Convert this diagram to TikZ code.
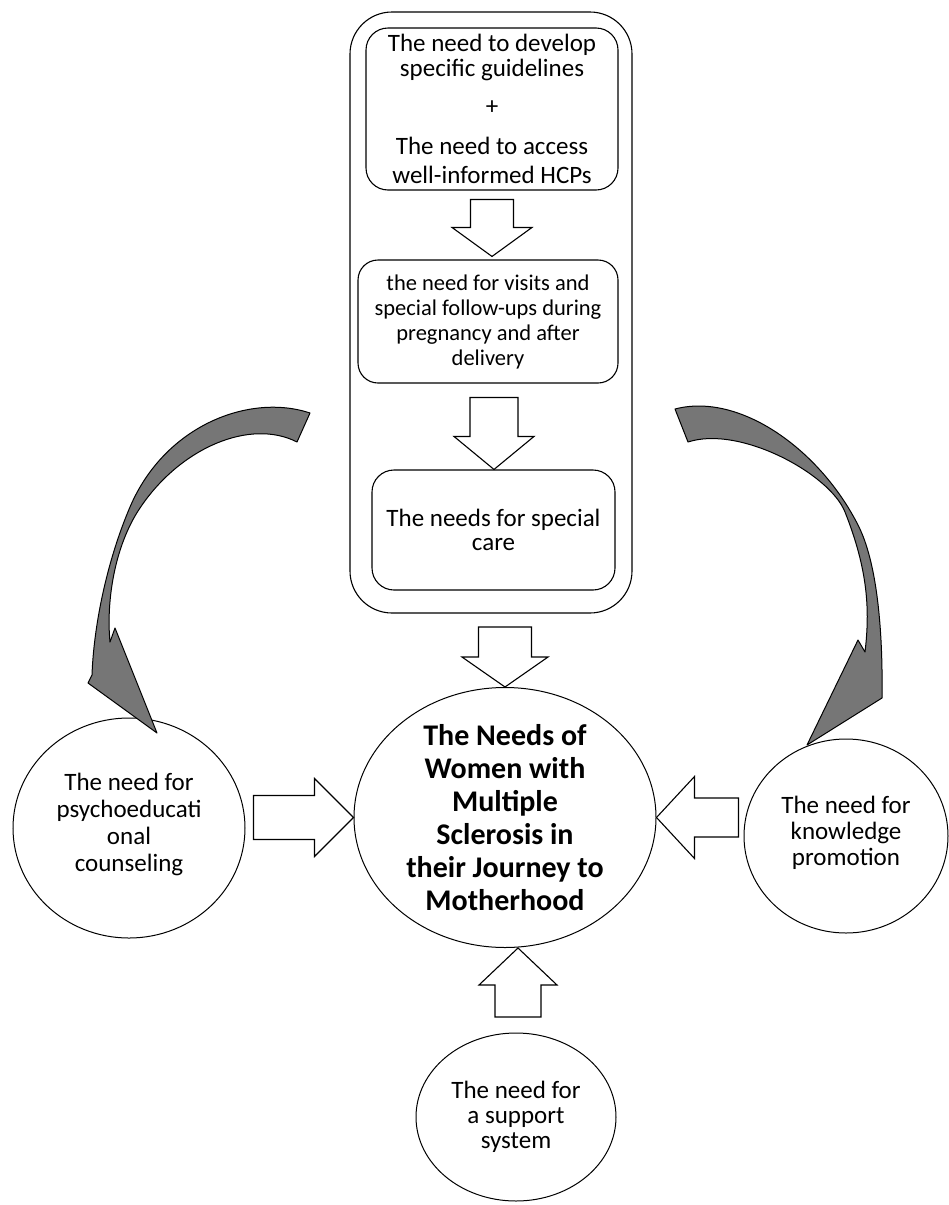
\documentclass[tikz,border=0pt]{standalone}
\usepackage{fontspec}
\setmainfont{Carlito}
\usetikzlibrary{shapes.geometric,calc}
\definecolor{arrowgray}{RGB}{118,118,118}
\newcommand\szA{\fontsize{25}{25}\selectfont}
\newcommand\szB{\fontsize{22.5}{25}\selectfont}
\newcommand\szC{\fontsize{25}{24}\selectfont}
\newcommand\szD{\fontsize{30}{33}\selectfont\bfseries}
\newcommand\szE{\fontsize{25}{27}\selectfont}
\newcommand\szF{\fontsize{25}{26}\selectfont}
\tikzset{
  box/.style={draw, line width=1.1pt, rounded corners=22pt, align=center, inner sep=0pt},
  oval/.style={draw, ellipse, line width=1pt, inner sep=0pt},
  lbl/.style={align=center, inner sep=0pt},
  blockarrow/.style={draw, line width=1.1pt, fill=white, line join=miter},
  curvedarrow/.style={draw=black, line width=1pt, fill=arrowgray, line join=round},
  pics/barrow/.style args={#1/#2/#3/#4}{code={
    \path[blockarrow] (0,0) -- (-#2,#4/2) -- (-#2,#3/2) -- (-#1,#3/2) -- (-#1,-#3/2) -- (-#2,-#3/2) -- (-#2,-#4/2) -- cycle;}}
}
\begin{document}
\begin{tikzpicture}[x=1pt,y=-1pt]
\useasboundingbox (0,0) rectangle (949,1205);

% frame and boxes
\node[box, rounded corners=42pt, minimum width=282pt, minimum height=601pt] (frame) at (491,312.5) {};
\node[box, minimum width=252pt, minimum height=162pt, font=\szA] (box1) at (492,109)
  {The need to develop\\specific guidelines\\[13pt]+\\[15pt]The need to access\\[4pt]well-informed HCPs};
\node[box, rounded corners=20pt, minimum width=260pt, minimum height=123pt, font=\szB] (box2) at (488,321.5)
  {the need for visits and\\special follow-ups during\\pregnancy and after\\delivery};
\node[box, minimum width=243pt, minimum height=120pt, font=\szC] (box3) at (493.5,530)
  {The needs for special\\care};

% ellipses
\node[oval, minimum width=302pt, minimum height=260pt] (center) at (505,817.5) {};
\node[lbl, font=\szD] (centerlabel) at (center) {The Needs of\\Women with\\Multiple\\Sclerosis in\\their Journey to\\Motherhood};
\node[oval, minimum width=232pt, minimum height=220pt] (left) at (129,828) {};
\node[lbl, font=\szE] (leftlabel) at ($(left)+(0,-4)$) {The need for\\psychoeducati\\onal\\counseling};
\node[oval, minimum width=204pt, minimum height=194pt] (right) at (846,836) {};
\node[lbl, font=\szF] (rightlabel) at ($(right)+(0,-3)$) {The need for\\knowledge\\promotion};
\node[oval, minimum width=200pt, minimum height=168pt] (bottom) at (516,1117) {};
\node[lbl, font=\szA] (bottomlabel) at (bottom) {The need for\\a support\\system};

% block arrows
\pic[rotate=-90] at ($(box2.north)+(4,-3)$) {barrow=57/29/43/80};
\pic[rotate=-90] at ($(box3.north)+(0.5,0)$) {barrow=72/33/48/80};
\pic[rotate=-90] at (center.north) {barrow=60/30/53/86};
\pic at (center.west) {barrow=100/39/44/78};
\pic[rotate=180] at (center.east) {barrow=82/38/39/82};
\pic[rotate=90] at ($(center.south)+(13,0)$) {barrow=69/37/46/78};

% curved arrows
\path[curvedarrow]
  (310,413) .. controls (250,393) and (165,425) .. (130,507)
  .. controls (109,556) and (94,620) .. (92,675)
  -- (88,683) -- (157,733) -- (115,628) -- (110,642)
  .. controls (106,600) and (115,545) .. (140,508)
  .. controls (180,448) and (250,418) .. (297,442)
  -- cycle;
\path[curvedarrow]
  (675,409) .. controls (740,392) and (820,450) .. (858,525)
  .. controls (877,562) and (883,630) .. (882,698)
  -- (807,745) -- (858,640) -- (865,652)
  .. controls (870,610) and (868,570) .. (845,512)
  .. controls (830,474) and (740,425) .. (688,442)
  -- cycle;
\end{tikzpicture}
\end{document}
